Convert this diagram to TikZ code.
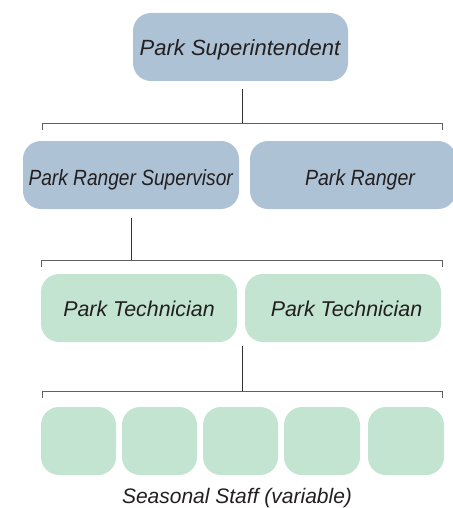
\documentclass[tikz,border=0pt]{standalone}
\usepackage{fontspec}
\setmainfont{Liberation Sans}
\definecolor{boxblue}{HTML}{AEC2D5}
\definecolor{boxgreen}{HTML}{C2E4D1}
\definecolor{textgray}{HTML}{231F20}
\definecolor{linedark}{HTML}{333333}
\definecolor{linegray}{HTML}{606060}
\begin{document}
\begin{tikzpicture}[x=1pt,y=-1pt,
  box/.style={rectangle, rounded corners=18pt, inner sep=0pt, draw=none, minimum height=68pt},
  bluebox/.style={box, fill=boxblue},
  greenbox/.style={box, fill=boxgreen},
  conn/.style={draw=linedark, line width=1pt},
  bracket/.style={draw=linegray, line width=1pt},
  lbl/.style={font=\fontsize{22}{26}\selectfont\itshape, text=textgray, inner sep=0pt, anchor=base},
  lbls/.style={lbl, font=\fontsize{21.4}{26}\selectfont\itshape}]
\useasboundingbox (0,0) rectangle (452,508);
% boxes
\node[bluebox, minimum width=215pt] (sup) at (240.5,47) {};
\node[bluebox, minimum width=216pt] (prs) at (131,175) {};
\node[bluebox, minimum width=206pt] (pr) at (353,175) {};
\node[greenbox, minimum width=196pt] (tech1) at (139,308) {};
\node[greenbox, minimum width=196pt] (tech2) at (343,308) {};
\node[greenbox, minimum width=75pt] (s1) at (78.5,441) {};
\node[greenbox, minimum width=75pt] (s2) at (159.5,441) {};
\node[greenbox, minimum width=75pt] (s3) at (240.5,441) {};
\node[greenbox, minimum width=76pt] (s4) at (322,441) {};
\node[greenbox, minimum width=76pt] (s5) at (406,441) {};
% labels
\node[lbl] (tsup) at (240,56) {Park Superintendent};
\node[lbl] (tprs) at (130.7,185) {\scalebox{0.87}[1]{Park Ranger Supervisor}};
\node[lbl] (tpr) at (360,185) {\scalebox{0.89}[1]{Park Ranger}};
\node[lbls] (tt1) at (139,316) {Park Technician};
\node[lbls] (tt2) at (346.5,316) {Park Technician};
\node[lbl, font=\fontsize{21}{25}\selectfont\itshape] (tseason) at (237,503) {Seasonal Staff (variable)};
% bracket coordinates
\coordinate (b1) at (242,123);
\coordinate (b1l) at (42,123);
\coordinate (b1r) at (442,123);
\coordinate (b2) at (131,260);
\coordinate (b2l) at (41,260);
\coordinate (b2r) at (442,260);
\coordinate (b3) at (242,391);
\coordinate (b3l) at (42,391);
\coordinate (b3r) at (442,391);
% connectors
\draw[conn] (sup.south -| b1) ++(0,8) -- (b1);
\draw[bracket] (b1l) ++(0,7) -- (b1l) -- (b1r) -- ++(0,7);
\draw[conn] (prs.south -| b2) ++(0,9) -- (b2);
\draw[bracket] (b2l) ++(0,7) -- (b2l) -- (b2r) -- ++(0,7);
\draw[conn] (tech1.south -| b3) ++(0,4) -- (b3);
\draw[bracket] (b3l) ++(0,7) -- (b3l) -- (b3r) -- ++(0,7);
\end{tikzpicture}
\end{document}
